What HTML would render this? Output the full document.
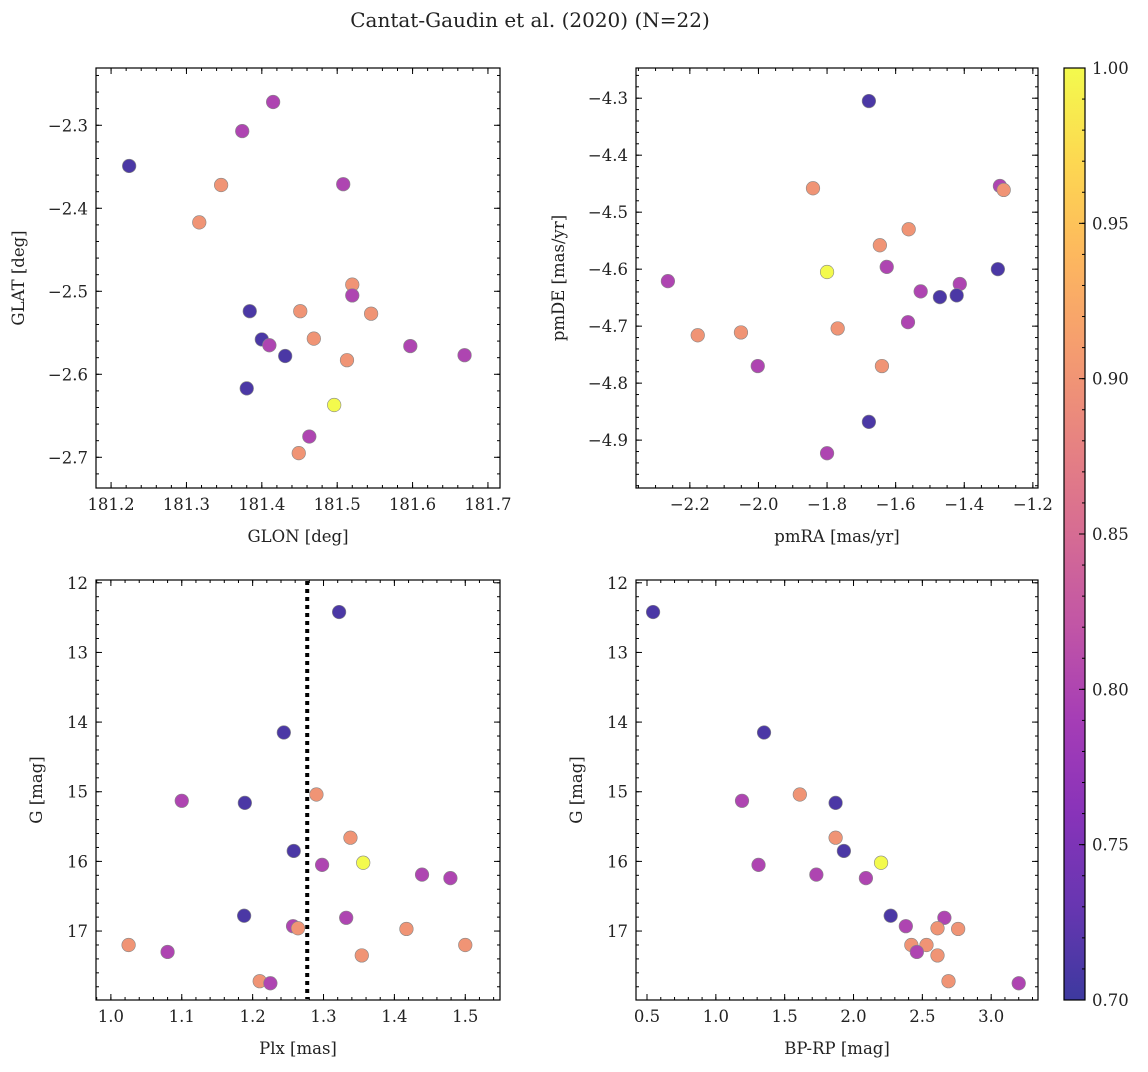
<!DOCTYPE html>
<html><head><meta charset="utf-8"><style>
body{margin:0;background:#fff;}
svg text{font-family:"DejaVu Serif","Liberation Serif",serif;fill:#222;}
</style></head><body>
<svg id="fig" width="1148" height="1067" xmlns="http://www.w3.org/2000/svg">
<text x="530" y="27" font-size="20" text-anchor="middle">Cantat-Gaudin et al. (2020) (N=22)</text>
</svg>
<script>
// ---- data ----
const glon=[181.224,181.374,181.415,181.346,181.317,181.508,181.384,181.400,181.410,181.431,181.380,181.451,181.469,181.520,181.520,181.545,181.513,181.597,181.669,181.496,181.463,181.449];
const glat=[-2.349,-2.307,-2.272,-2.372,-2.417,-2.371,-2.524,-2.558,-2.565,-2.578,-2.617,-2.524,-2.557,-2.492,-2.505,-2.527,-2.583,-2.566,-2.577,-2.637,-2.675,-2.695];
const probTL=[0.71,0.80,0.80,0.90,0.90,0.80,0.71,0.71,0.80,0.71,0.71,0.90,0.90,0.90,0.80,0.90,0.90,0.80,0.80,1.0,0.80,0.90];
const pmra=[-1.678,-1.841,-1.296,-1.285,-1.562,-1.646,-1.626,-1.80,-1.302,-1.413,-1.527,-1.471,-1.422,-2.264,-2.177,-2.051,-1.769,-1.564,-2.002,-1.640,-1.678,-1.80];
const pmde=[-4.305,-4.458,-4.454,-4.461,-4.530,-4.558,-4.596,-4.605,-4.600,-4.626,-4.639,-4.649,-4.646,-4.621,-4.716,-4.711,-4.704,-4.693,-4.770,-4.770,-4.868,-4.923];
const probTR=[0.71,0.90,0.80,0.90,0.90,0.90,0.80,1.0,0.71,0.80,0.80,0.71,0.71,0.80,0.90,0.90,0.90,0.80,0.80,0.90,0.71,0.80];
const plx=[1.322,1.244,1.10,1.189,1.29,1.338,1.258,1.298,1.356,1.439,1.479,1.188,1.332,1.257,1.264,1.417,1.025,1.50,1.08,1.354,1.21,1.225];
const gmagBL=[12.42,14.15,15.13,15.16,15.04,15.66,15.85,16.05,16.02,16.19,16.24,16.78,16.81,16.93,16.96,16.97,17.20,17.20,17.30,17.35,17.72,17.75];
const probBL=[0.71,0.71,0.80,0.71,0.90,0.90,0.71,0.80,1.0,0.80,0.80,0.71,0.80,0.80,0.90,0.90,0.90,0.90,0.80,0.90,0.90,0.80];
const bprp=[0.544,1.35,1.19,1.61,1.87,1.87,1.93,2.20,1.31,1.73,2.09,2.27,2.66,2.38,2.61,2.76,2.42,2.53,2.46,2.61,2.69,3.20];
const gmagBR=[12.42,14.15,15.13,15.04,15.16,15.66,15.85,16.02,16.05,16.19,16.24,16.78,16.81,16.93,16.96,16.97,17.20,17.20,17.30,17.35,17.72,17.75];
const probBR=[0.71,0.71,0.80,0.90,0.71,0.90,0.71,1.0,0.80,0.80,0.80,0.71,0.80,0.80,0.90,0.90,0.90,0.90,0.80,0.90,0.90,0.80];
const plxRef=[1.277];
const cbTicks=[0.70,0.75,0.80,0.85,0.90,0.95,1.00];

const NS="http://www.w3.org/2000/svg";
const fig=document.getElementById('fig');
const FS=16.5;
function mk(tag,attrs,parent){const e=document.createElementNS(NS,tag);for(const k in attrs)e.setAttribute(k,attrs[k]);(parent||fig).appendChild(e);return e;}
const plasma=["#0d0887","#41049d","#6a00a8","#8f0da4","#b12a90","#cc4778","#e16462","#f2844b","#fca636","#fcce25","#f0f921"];
function hex(h){return [1,3,5].map(i=>parseInt(h.substr(i,2),16));}
function cmap(v){let t=(v-0.70)/0.30;t=Math.max(0,Math.min(1,t));const f=t*10,i=Math.min(9,Math.floor(f)),r=f-i;
 const a=hex(plasma[i]),b=hex(plasma[i+1]);const c=a.map((x,k)=>Math.round((x+(b[k]-x)*r)*0.8+255*0.2));return `rgb(${c[0]},${c[1]},${c[2]})`;}

function panel(name,L,T,R,B,xmin,xmax,ymin,ymax,xmaj,xminr,ymaj,yminr,xdec,ydec,xlabel,ylabel,xs,ys,cs,invert){
 const g=mk('g',{});
 
 
 const sx=v=>L+(v-xmin)/(xmax-xmin)*(R-L);
 const sy=invert?(v=>T+(v-ymin)/(ymax-ymin)*(B-T)):(v=>B-(v-ymin)/(ymax-ymin)*(B-T));
 const ticks=(a,b,s)=>{const o=[];for(let v=Math.ceil(a/s-1e-6)*s;v<=b+1e-9;v+=s)o.push(+v.toFixed(6));return o;};
 ticks(xmin,xmax,xminr).forEach(v=>{const x=sx(v);mk('line',{x1:x,x2:x,y1:B,y2:B-3,stroke:'#000'},g);mk('line',{x1:x,x2:x,y1:T,y2:T+3,stroke:'#000'},g);});
 ticks(ymin,ymax,yminr).forEach(v=>{const y=sy(v);mk('line',{x1:L,x2:L+3,y1:y,y2:y,stroke:'#000'},g);mk('line',{x1:R,x2:R-3,y1:y,y2:y,stroke:'#000'},g);});
 ticks(xmin,xmax,xmaj).forEach(v=>{const x=sx(v);mk('line',{x1:x,x2:x,y1:B,y2:B-6,stroke:'#000'},g);mk('line',{x1:x,x2:x,y1:T,y2:T+6,stroke:'#000'},g);
  const t=mk('text',{x:x,y:B+22,'font-size':FS,'text-anchor':'middle'},g);t.textContent=v.toFixed(xdec).replace('-','\u2212');});
 ticks(ymin,ymax,ymaj).forEach(v=>{const y=sy(v);mk('line',{x1:L,x2:L+6,y1:y,y2:y,stroke:'#000'},g);mk('line',{x1:R,x2:R-6,y1:y,y2:y,stroke:'#000'},g);
  const t=mk('text',{x:L-8,y:y+6,'font-size':FS,'text-anchor':'end'},g);t.textContent=v.toFixed(ydec).replace('-','\u2212');});
 const xl=mk('text',{x:(L+R)/2,y:B+54,'font-size':FS,'text-anchor':'middle'},g);xl.textContent=xlabel;
 
 
 const lx=L-(ydec?72:54);
 const yl=mk('text',{x:lx,y:(T+B)/2,'font-size':FS,'text-anchor':'middle',transform:`rotate(-90 ${lx} ${(T+B)/2})`},g);yl.textContent=ylabel;
 
 
 xs.forEach((v,i)=>{const c=mk('circle',{cx:sx(v),cy:sy(ys[i]),r:6.8,fill:cmap(cs[i]),stroke:'#888','stroke-width':0.6},g);
  
  });
 mk('rect',{x:L,y:T,width:R-L,height:B-T,fill:'none',stroke:'#000','stroke-width':1.2},g);
 return {sx,sy,g};
}
panel('glon-glat-panel',96,68,500,488,181.18,181.716,-2.737,-2.231,0.1,0.02,0.1,0.02,1,1,'GLON [deg]','GLAT [deg]',glon,glat,probTL,false);
panel('pm-panel',636,68,1038,488,-2.357,-1.185,-4.984,-4.247,0.2,0.05,0.1,0.02,1,1,'pmRA [mas/yr]','pmDE [mas/yr]',pmra,pmde,probTR,false);
const bl=panel('plx-g-panel',96,580,500,1000,0.979,1.549,11.96,17.99,0.1,0.02,1,0.2,1,0,'Plx [mas]','G [mag]',plx,gmagBL,probBL,true);
plxRef.forEach(v=>{const l=mk('line',{x1:bl.sx(v),x2:bl.sx(v),y1:581,y2:999,stroke:'#000','stroke-width':4,'stroke-dasharray':'4,4'},bl.g);
 
 });
panel('cmd-panel',636,580,1038,1000,0.42,3.34,11.96,17.99,0.5,0.1,1,0.2,1,0,'BP-RP [mag]','G [mag]',bprp,gmagBR,probBR,true);

// colorbar
const cb=mk('g',{});


const defs=mk('defs',{},cb);const lg=mk('linearGradient',{id:'cbg',x1:0,y1:1,x2:0,y2:0},defs);
for(let i=0;i<=20;i++){mk('stop',{offset:i/20,'stop-color':cmap(0.70+0.30*i/20)},lg);}
mk('rect',{x:1064,y:68,width:21,height:932,fill:'url(#cbg)',stroke:'#000','stroke-width':1.2},cb);
const cy=v=>1000-(v-0.70)/0.30*932;
for(let v=0.70;v<=1.0001;v+=0.01){mk('line',{x1:1085,x2:1082,y1:cy(v),y2:cy(v),stroke:'#000'},cb);}
cbTicks.forEach(v=>{mk('line',{x1:1085,x2:1079,y1:cy(v),y2:cy(v),stroke:'#000'},cb);
 const t=mk('text',{x:1092,y:cy(v)+6,'font-size':FS},cb);t.textContent=v.toFixed(2);});
</script>
</body></html>
